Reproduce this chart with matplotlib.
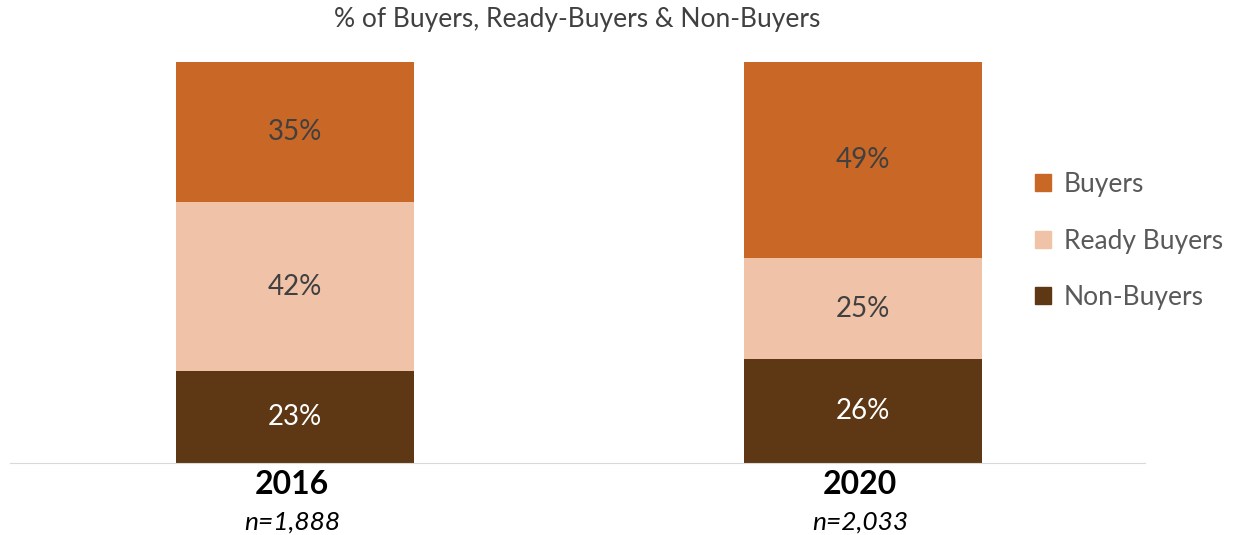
import numpy as np
import matplotlib.pyplot as plt
from matplotlib.patches import Patch

years = ["2016", "2020"]
sample = ["n=1,888", "n=2,033"]
non_buyers = [23, 26]
ready_buyers = [42, 25]
buyers = [35, 49]

c_buy = "#C96727"
c_ready = "#F0C2A8"
c_non = "#5E3714"

plt.rcParams["font.family"] = ["Lato", "DejaVu Sans"]

fig = plt.figure(figsize=(12.39, 5.35), dpi=100)
ax = fig.add_axes([10 / 1239, 1 - 463 / 535, 1135 / 1239, 401 / 535])

x = np.arange(len(years))
w = 0.42
b1 = ax.bar(x, non_buyers, w, color=c_non)
b2 = ax.bar(x, ready_buyers, w, bottom=non_buyers, color=c_ready)
bot3 = np.array(non_buyers) + np.array(ready_buyers)
b3 = ax.bar(x, buyers, w, bottom=bot3, color=c_buy)

ax.bar_label(b1, labels=[f"{v}%" for v in non_buyers], label_type="center", color="white", fontsize=20)
ax.bar_label(b2, labels=[f"{v}%" for v in ready_buyers], label_type="center", color="#404040", fontsize=20)
ax.bar_label(b3, labels=[f"{v}%" for v in buyers], label_type="center", color="#404040", fontsize=20)

ax.set_xlim(-0.5015, 1.4965)
ax.set_ylim(0, 100)
for s in ["top", "right", "left"]:
    ax.spines[s].set_visible(False)
ax.spines["bottom"].set_color("#d9d9d9")
ax.set_yticks([])
ax.set_xticks([])

for i in range(len(years)):
    xc = (10 + 1135 * (x[i] + 0.5015) / 1.998 - 3) / 1239
    fig.text(xc, 1 - 485 / 535, years[i],
             ha="center", va="center", fontsize=23, fontweight="bold", color="black")
    fig.text(xc, 1 - 522 / 535, sample[i],
             ha="center", va="center", fontsize=19, style="italic", color="black")

fig.text(577 / 1239, 1 - 19 / 535, "% of Buyers, Ready-Buyers & Non-Buyers",
         ha="center", va="center", fontsize=19, color="#404040")

handles = [Patch(color=c_buy), Patch(color=c_ready), Patch(color=c_non)]
fig.legend(handles, ["Buyers", "Ready Buyers", "Non-Buyers"], loc="center left",
           bbox_to_anchor=(1035 / 1239, 1 - 241 / 535), frameon=False, fontsize=19,
           labelcolor="#595959", handlelength=0.6, handleheight=0.6,
           handletextpad=0.5, labelspacing=1.2, borderpad=0, borderaxespad=0)

fig.savefig("out.png", dpi=100)
